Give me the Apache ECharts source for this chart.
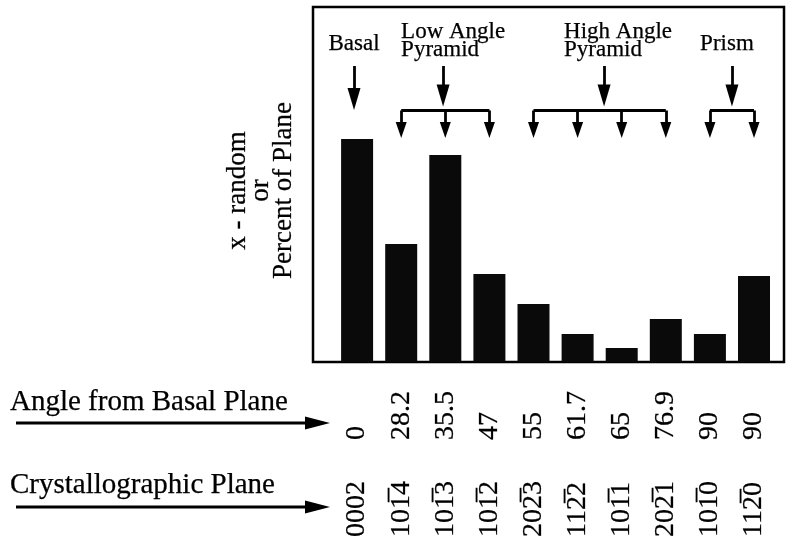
<!DOCTYPE html>
<html><head><meta charset="utf-8">
<script src="https://cdn.jsdelivr.net/npm/echarts@6/dist/echarts.min.js"></script>
<style>html,body{margin:0;padding:0;background:#fff}#c{width:786px;height:545px}</style>
</head><body><div id="c"></div>
<script>
// ---- data ----
const angles = ['0', '28.2', '35.5', '47', '55', '61.7', '65', '76.9', '90', '90'];
const planes = ['0002', '101\u03054', '101\u03053', '101\u03052', '202\u03053', '112\u03052', '101\u03051', '202\u03051', '101\u03050', '112\u03050'];
const values = [22.3, 11.8, 20.7, 8.8, 5.8, 2.8, 1.4, 4.3, 2.8, 8.6];
const groupNames = ['Basal', 'Low Angle\nPyramid', 'High Angle\nPyramid', 'Prism'];
const groupMembers = [[0], [1, 2, 3], [4, 5, 6, 7], [8, 9]];
const groupStemX = [-0.07, 1.95, 5.6, 8.5];

// ---- style / layout ----
const FONT = '"Liberation Serif", "Times New Roman", Times, serif';
const INK_W = 0.25;
const UNIT = 10; // px per y-unit (grid height 355px / 35.5)
const Y_MAX = 35.5;
const STEM_TOP = 29.6, STEM_TIP = 25.4, BASAL_TIP = 25.2, BRACKET_Y = 25.15, DROP_TIP = 22.4;
const BIG = [13, 22], SMALL = [11, 16];

function arrow(x1, y1, x2, y2, size) {
  const yEnd = y2 + (size[1] / 2) / UNIT;
  return [{ coord: [x1, y1], symbol: 'none' }, { coord: [x2, yEnd], symbol: 'triangle', symbolSize: size }];
}
function seg(x1, y1, x2, y2) {
  return [{ coord: [x1, y1], symbol: 'none' }, { coord: [x2, y2], symbol: 'none' }];
}
const ml = [];
groupMembers.forEach((m, g) => {
  const sx = groupStemX[g];
  if (m.length === 1) {
    ml.push(arrow(sx, STEM_TOP, sx, BASAL_TIP, BIG));
  } else {
    ml.push(arrow(sx, STEM_TOP, sx, STEM_TIP + 0.15, BIG));
    ml.push(seg(m[0], BRACKET_Y, m[m.length - 1], BRACKET_Y));
    m.forEach(i => ml.push(arrow(i, BRACKET_Y, i, DROP_TIP, SMALL)));
  }
});

function lab(arr) {
  return v => (Number.isInteger(v) && v >= 0 && v < arr.length) ? arr[v] : '';
}
const xBase = {
  type: 'value', min: -1, max: 9.68, interval: 1, gridIndex: 0, position: 'bottom',
  axisLine: { show: false }, axisTick: { show: false }, splitLine: { show: false }
};
const rotLabel = { rotate: 90, align: 'left', verticalAlign: 'middle',
  fontFamily: FONT, fontSize: 28, color: '#000', showMaxLabel: false, showMinLabel: false,
  textBorderColor: '#000', textBorderWidth: INK_W };

const chart = echarts.init(document.getElementById('c'), null, { renderer: 'canvas' });
chart.setOption({
  animation: false,
  backgroundColor: '#fff',
  grid: { left: 313, right: 2, top: 7, bottom: 183, containLabel: false, outerBoundsMode: 'none',
    show: true, borderColor: '#000', borderWidth: 2.5, backgroundColor: 'transparent' },
  xAxis: [
    Object.assign({}, xBase, { axisLabel: Object.assign({}, rotLabel, { formatter: lab(angles), margin: 78 }) }),
    Object.assign({}, xBase, { axisLabel: Object.assign({}, rotLabel, { formatter: lab(planes), margin: 175 }) })
  ],
  yAxis: {
    type: 'value', min: 0, max: Y_MAX,
    axisLine: { show: false }, axisTick: { show: false }, axisLabel: { show: false }, splitLine: { show: false },
    name: 'x - random\nor\nPercent of Plane', nameLocation: 'middle', nameRotate: 90, nameGap: 18,
    nameTextStyle: { fontFamily: FONT, fontSize: 27, lineHeight: 23, color: '#000', padding: [0, 12, 0, 0],
      textBorderColor: '#000', textBorderWidth: INK_W }
  },
  series: [{
    type: 'bar', xAxisIndex: 0, yAxisIndex: 0,
    data: values.map((v, i) => [i, v]),
    barWidth: 32,
    itemStyle: { color: '#0a0a0a' },
    silent: true,
    markLine: {
      silent: true, animation: false,
      label: { show: false },
      lineStyle: { color: '#000', width: 2.8, type: 'solid' },
      emphasis: { disabled: true },
      data: ml
    }
  }]
});

// ---- annotation texts anchored to the arrow stems ----
const gfx = [];
const textOffsets = [[0, 'center'], [-42, 'left'], [-40, 'left'], [-5, 'center']];
const textTopY = [35, 23, 23, 35];
groupNames.forEach((name, g) => {
  const p = chart.convertToPixel({ gridIndex: 0 }, [groupStemX[g], STEM_TOP]);
  gfx.push({
    type: 'text', x: p[0] + textOffsets[g][0], y: textTopY[g],
    style: { text: name, fontFamily: FONT, fontSize: 23, fill: '#000', align: textOffsets[g][1], verticalAlign: 'top', lineHeight: 18,
      stroke: '#000', lineWidth: INK_W }
  });
});
// left-hand row captions with arrows
[['Angle from Basal Plane', 388, 423], ['Crystallographic Plane', 471, 507]].forEach(([t, ty, ay]) => {
  gfx.push({ type: 'text', x: 10, y: ty, style: { text: t, fontFamily: FONT, fontSize: 29, fill: '#000', verticalAlign: 'top', lineHeight: 29, stroke: '#000', lineWidth: INK_W } });
  gfx.push({ type: 'line', shape: { x1: 16, y1: ay, x2: 312, y2: ay }, style: { stroke: '#000', lineWidth: 3.2 } });
  gfx.push({ type: 'polygon', shape: { points: [[305, ay - 6.5], [330, ay], [305, ay + 6.5]] }, style: { fill: '#000' } });
});
chart.setOption({ graphic: gfx });
</script>
</body></html>
